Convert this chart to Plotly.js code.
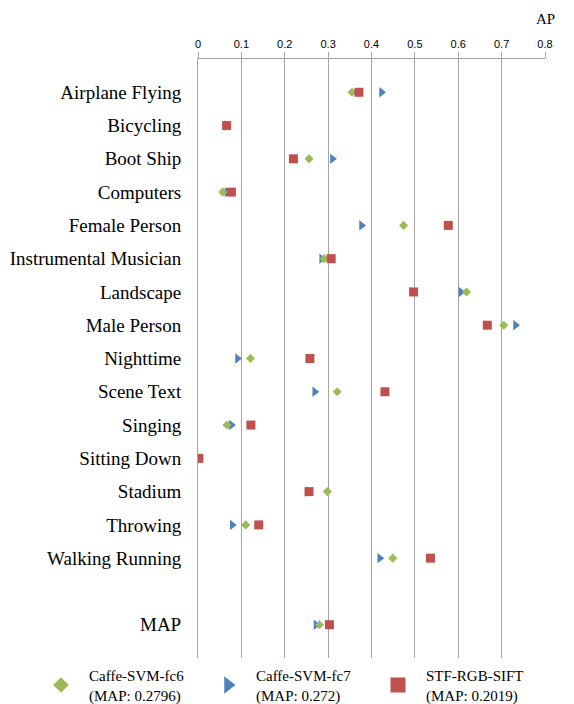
<!DOCTYPE html>
<html>
<head>
<meta charset="utf-8">
<script src="https://cdn.plot.ly/plotly-3.0.1.min.js"></script>
<style>html,body{margin:0;padding:0;background:#fff;}#chart{width:574px;height:704px;}</style>
</head>
<body>
<div id="chart"></div>
<script>
// Categories (top to bottom); MAP is shown after one empty slot
var categories = ["Airplane Flying","Bicycling","Boot Ship","Computers","Female Person","Instrumental Musician","Landscape","Male Person","Nighttime","Scene Text","Singing","Sitting Down","Stadium","Throwing","Walking Running","MAP"];
var caffeFc6 = [0.355, 0.065, 0.256, 0.057, 0.474, 0.291, 0.619, 0.705, 0.121, 0.321, 0.067, 0.000, 0.298, 0.110, 0.449, 0.280];
var caffeFc7 = [0.423, 0.066, 0.310, 0.067, 0.377, 0.285, 0.606, 0.732, 0.091, 0.269, 0.077, 0.000, 0.252, 0.079, 0.419, 0.272];
var stfRgbSift = [0.371, 0.066, 0.220, 0.077, 0.577, 0.307, 0.497, 0.667, 0.258, 0.431, 0.122, 0.002, 0.256, 0.140, 0.536, 0.303];
var seriesNames = ["Caffe-SVM-fc6<br>(MAP: 0.2796)", "Caffe-SVM-fc7<br>(MAP: 0.272)", "STF-RGB-SIFT<br>(MAP: 0.2019)"];
var xTicks = [0, 0.1, 0.2, 0.3, 0.4, 0.5, 0.6, 0.7, 0.8];

var GREEN = "#9BBB59", BLUE = "#4F81BD", RED = "#C0504D";
// slot index on the category axis (blank slot before MAP)
var slots = categories.map(function(c, i){ return c === "MAP" ? i + 2 : i + 1; });

var serif = "Liberation Serif, Times New Roman, serif";

var traces = [
  {x: caffeFc7, y: slots, type: "scatter", mode: "markers", showlegend: false,
   marker: {symbol: "triangle-right", size: 9, color: BLUE}},
  {x: caffeFc6, y: slots, type: "scatter", mode: "markers", showlegend: false,
   marker: {symbol: "diamond", size: 7, color: GREEN}},
  {x: stfRgbSift, y: slots, type: "scatter", mode: "markers", showlegend: false,
   marker: {symbol: "square", size: 9, color: RED}},
  // legend entries
  {x: [null], y: [null], type: "scatter", mode: "markers", name: seriesNames[0], legend: "legend",
   marker: {symbol: "diamond", size: 12, color: GREEN}},
  {x: [null], y: [null], type: "scatter", mode: "markers", name: seriesNames[1], legend: "legend2",
   marker: {symbol: "triangle-right", size: 15, color: BLUE}},
  {x: [null], y: [null], type: "scatter", mode: "markers", name: seriesNames[2], legend: "legend3",
   marker: {symbol: "square", size: 15, color: RED}}
];

var legendBase = {orientation: "h", xref: "container", yref: "container", yanchor: "middle", y: 0.027, xanchor: "left",
  itemwidth: 46,
  font: {family: serif, size: 15, color: "#000"}, bgcolor: "rgba(0,0,0,0)", itemclick: false};

var layout = {
  width: 574, height: 704,
  margin: {l: 198, r: 29, t: 59, b: 46, autoexpand: false},
  paper_bgcolor: "#fff", plot_bgcolor: "#fff",
  showlegend: true,
  xaxis: {
    side: "top", range: [0, 0.8], tickvals: xTicks, ticktext: xTicks.map(String),
    showgrid: true, gridcolor: "#A6A6A6", gridwidth: 1,
    showline: true, linecolor: "#A6A6A6", linewidth: 1,
    ticks: "outside", ticklen: 6, tickcolor: "#A6A6A6",
    zeroline: false, fixedrange: true,
    tickfont: {family: "Liberation Sans, Arial, sans-serif", size: 11, color: "#000"}
  },
  yaxis: {
    range: [18, 0], tickvals: slots, ticktext: categories,
    showgrid: false, zeroline: false, showline: true, linecolor: "#A6A6A6", linewidth: 1, ticks: "",
    ticklabelstandoff: 12,
    tickfont: {family: serif, size: 19, color: "#000"}, fixedrange: true
  },
  legend: Object.assign({}, legendBase, {x: 0.0575}),
  legend2: Object.assign({}, legendBase, {x: 0.3484}),
  legend3: Object.assign({}, legendBase, {x: 0.6446}),
  annotations: [
    {text: "AP", xref: "paper", yref: "paper", x: 1, y: 1, xanchor: "center", yanchor: "bottom",
     yshift: 30, showarrow: false, font: {family: serif, size: 15, color: "#000"}}
  ]
};

Plotly.newPlot("chart", traces, layout, {displayModeBar: false, staticPlot: true});
</script>
</body>
</html>
